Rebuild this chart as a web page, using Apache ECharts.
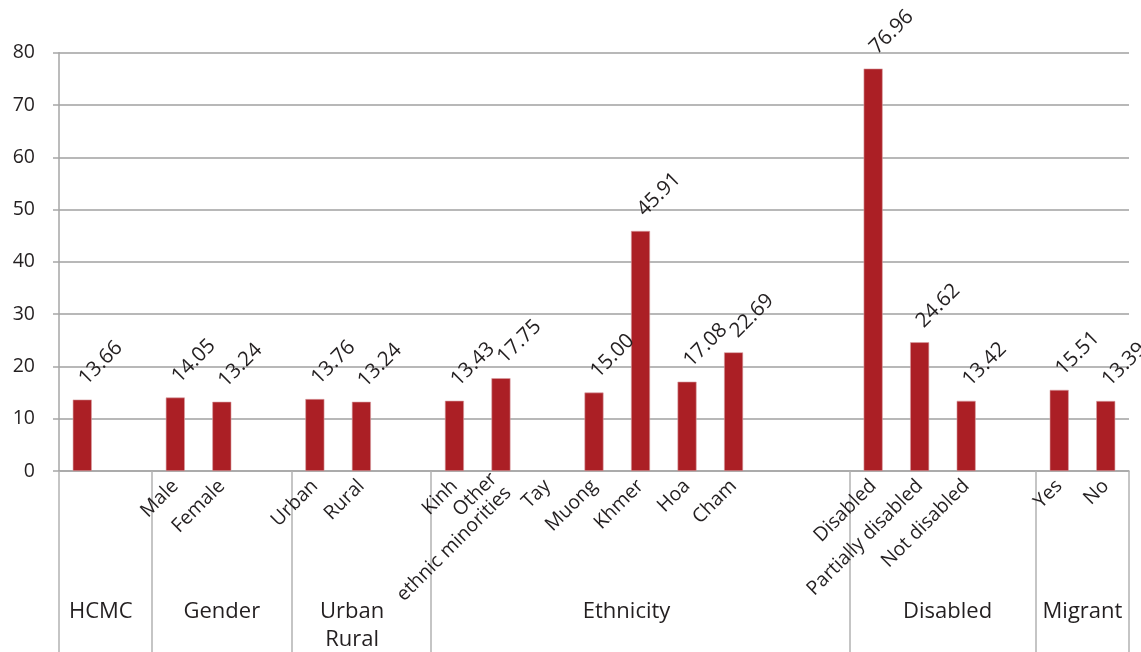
<!DOCTYPE html>
<html>
<head>
<meta charset="utf-8">
<script src="https://cdn.jsdelivr.net/npm/echarts@6/dist/echarts.min.js"></script>
<style>html,body{margin:0;padding:0;background:#fff;}#c{width:1141px;height:652px;}</style>
</head>
<body>
<div id="c"></div>
<script>
// Sub-categories (one slot each; blank slots are gaps between groups)
const categories = ['', '', 'Male', 'Female', '', 'Urban', 'Rural', '', 'Kinh', 'Other\nethnic minorities', 'Tay', 'Muong', 'Khmer', 'Hoa', 'Cham', '', '', 'Disabled', 'Partially disabled', 'Not disabled', '', 'Yes', 'No'];
const values = [13.66, null, 14.05, 13.24, null, 13.76, 13.24, null, 13.43, 17.75, null, 15.00, 45.91, 17.08, 22.69, null, null, 76.96, 24.62, 13.42, null, 15.51, 13.39];
// Group names, slot ranges [start, end) and label centre (in slot units)
const groupNames = ['HCMC', 'Gender', 'Urban\nRural', 'Ethnicity', 'Disabled', 'Migrant'];
const groupStart = [0, 2, 5, 8, 17, 21];
const groupEnd = [2, 5, 8, 17, 21, 23];
const groupLabelAt = [0.9, 3.5, 6.3, 12.2, 19.1, 22.0];
const yTicks = [0, 10, 20, 30, 40, 50, 60, 70, 80];

const FONT = '"Open Sans", "Noto Sans", sans-serif';
const TEXT = '#231f20';
const STEPS = 10; // sub-divisions per slot for the group axis
const nSlots = categories.length;
const groupAxisData = [];
for (let i = 0; i <= nSlots * STEPS; i++) groupAxisData.push(String(i));
const boundarySet = new Set();
groupStart.forEach(s => boundarySet.add(s * STEPS));
groupEnd.forEach(e => boundarySet.add(e * STEPS));
const labelMap = {};
groupNames.forEach((n, i) => { labelMap[Math.round(groupLabelAt[i] * STEPS)] = n; });

const chart = echarts.init(document.getElementById('c'), null, {renderer: 'canvas'});
chart.setOption({
  backgroundColor: '#fff',
  animation: false,
  grid: {left: 59, right: 12, top: 52.7, bottom: 181, containLabel: false, outerBoundsMode: 'none'},
  xAxis: [
    {
      type: 'category',
      data: categories,
      position: 'bottom',
      axisLine: {show: true, lineStyle: {color: '#a6a6a6', width: 1.5}},
      axisTick: {show: false},
      axisLabel: {
        interval: 0, rotate: 45, margin: 12,
        fontFamily: FONT, fontSize: 19.5, color: TEXT, lineHeight: 20
      }
    },
    {
      type: 'category',
      data: groupAxisData,
      boundaryGap: false,
      position: 'bottom',
      axisLine: {show: false},
      axisTick: {
        show: true, length: 181,
        interval: (idx) => boundarySet.has(idx),
        lineStyle: {color: '#b3b3b3', width: 1.5}
      },
      axisLabel: {
        show: true, margin: 127,
        interval: (idx) => labelMap[idx] !== undefined,
        formatter: (v, idx) => labelMap[idx] || '',
        fontFamily: FONT, fontSize: 22, color: TEXT, lineHeight: 28
      },
      splitLine: {show: false}
    }
  ],
  yAxis: {
    type: 'value',
    min: yTicks[0], max: yTicks[yTicks.length - 1], interval: 10,
    axisLine: {show: true, lineStyle: {color: '#a6a6a6', width: 1.5}},
    axisTick: {show: true, length: 6, lineStyle: {color: '#a6a6a6', width: 1.5}},
    axisLabel: {fontFamily: FONT, fontSize: 19.5, color: TEXT, margin: 24},
    splitLine: {show: true, lineStyle: {color: '#a0a0a0', width: 1.5}}
  },
  series: [{
    type: 'bar',
    xAxisIndex: 0,
    data: values,
    barWidth: 19,
    itemStyle: {color: '#ab1f25', borderColor: '#d9a0a2', borderWidth: 0.6},
    label: {
      show: true, position: 'top', distance: 18,
      rotate: 45, align: 'left', verticalAlign: 'middle',
      formatter: (p) => (p.value == null ? '' : Number(p.value).toFixed(2)),
      fontFamily: FONT, fontSize: 20.5, color: TEXT
    }
  }]
});
</script>
</body>
</html>
